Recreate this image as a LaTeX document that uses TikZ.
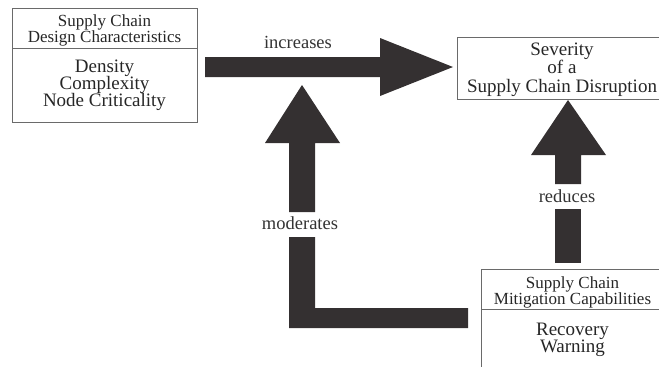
\documentclass[tikz,border=0pt]{standalone}
\usepackage{fontspec}
\setmainfont{Liberation Serif}
\definecolor{arrowfill}{HTML}{343031}
\definecolor{boxline}{HTML}{6A6A6A}
\begin{document}
\begin{tikzpicture}[x=1pt,y=-1pt,
  frame/.style={draw=boxline,line width=0.9pt},
  titletext/.style={anchor=base,inner sep=0pt,font=\fontsize{17}{17}\selectfont,text=black!85},
  bodytext/.style={anchor=base,inner sep=0pt,font=\fontsize{19}{19}\selectfont,text=black!85},
  edgetext/.style={anchor=base,inner sep=0pt,font=\fontsize{18.5}{18.5}\selectfont,text=black!80},
  blockarrow/.style={fill=arrowfill,draw=none}]
\useasboundingbox (0,0) rectangle (659,367);
\clip (0,0) rectangle (659,367);

% Design characteristics box
\coordinate (dcNW) at (12,8);
\coordinate (dcSE) at (197,122);
\draw[frame] (dcNW) rectangle (dcSE);
\draw[frame] (12,48) -- (197,48);
\node[titletext] (dc1) at (104.5,26) {Supply Chain};
\node[titletext] (dc2) at (104.5,42) {Design Characteristics};
\node[bodytext] (dc3) at (104.5,72) {Density};
\node[bodytext] (dc4) at (104.5,89) {Complexity};
\node[bodytext] (dc5) at (104.5,106) {Node Criticality};

% Severity box
\coordinate (svNW) at (457,37);
\coordinate (svSE) at (667,99);
\draw[frame] (svNW) rectangle (svSE);
\node[bodytext] (sv1) at (562,55) {Severity};
\node[bodytext] (sv2) at (562,73) {of a};
\node[bodytext] (sv3) at (562,92) {Supply Chain Disruption};

% Mitigation capabilities box
\coordinate (mcNW) at (481,269);
\coordinate (mcSE) at (664,400);
\draw[frame] (mcNW) rectangle (mcSE);
\draw[frame] (481,309) -- (664,309);
\node[titletext] (mc1) at (572.5,288) {Supply Chain};
\node[titletext] (mc2) at (572.5,304) {Mitigation Capabilities};
\node[bodytext] (mc3) at (572.5,335) {Recovery};
\node[bodytext] (mc4) at (572.5,352) {Warning};

% "increases" arrow
\fill[blockarrow] (205,57) -- (380,57) -- (380,38) -- (453,67) -- (380,96)
  -- (380,77) -- (205,77) -- cycle;
\node[edgetext] (inc) at (298,48) {increases};

% "moderates" arrow: L-shaped, split around its label
\fill[blockarrow] (289,212) -- (289,143) -- (265,143) -- (302,85) -- (340,143)
  -- (315,143) -- (315,212) -- cycle;
\fill[blockarrow] (289,237) -- (315,237) -- (315,308) -- (468,308) -- (468,328)
  -- (289,328) -- cycle;
\node[edgetext] (mod) at (300,229) {moderates};

% "reduces" arrow
\fill[blockarrow] (555,184) -- (555,155) -- (531,155) -- (568,100) -- (606,155)
  -- (581,155) -- (581,184) -- cycle;
\fill[blockarrow] (555,209) rectangle (581,263);
\node[edgetext] (red) at (567,202) {reduces};
\end{tikzpicture}
\end{document}
